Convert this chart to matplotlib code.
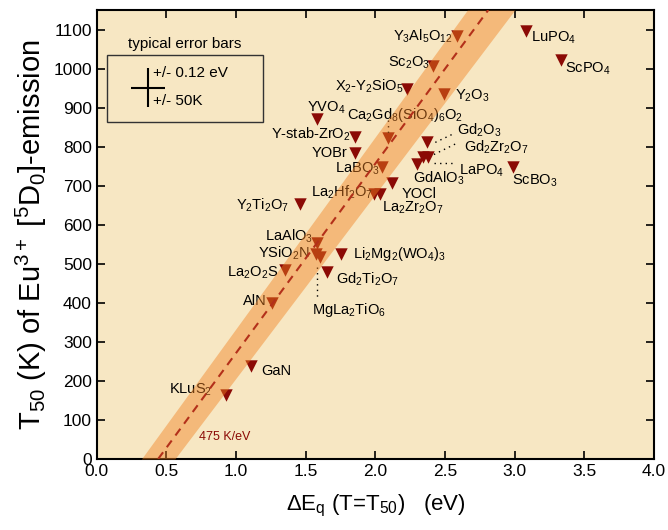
import numpy as np
import matplotlib
matplotlib.use('Agg')
import matplotlib.pyplot as plt

plt.rcParams['font.family'] = ['Liberation Sans', 'DejaVu Sans']
plt.rcParams['mathtext.fontset'] = 'custom'
plt.rcParams['mathtext.rm'] = 'Liberation Sans'
plt.rcParams['mathtext.it'] = 'Liberation Sans:italic'
plt.rcParams['mathtext.default'] = 'regular'

# compounds: (name, dEq [eV], T50 [K])
names = ['Y3Al5O12', 'LuPO4', 'Sc2O3', 'ScPO4', 'X2-Y2SiO5', 'Y2O3', 'YVO4',
         'Y-stab-ZrO2', 'YOBr', 'Ca2Gd8(SiO4)6O2', 'Gd2O3', 'Gd2Zr2O7', 'LaPO4',
         'GdAlO3', 'ScBO3', 'LaBO3', 'YOCl', 'La2Hf2O7', 'La2Zr2O7', 'Y2Ti2O7',
         'LaAlO3', 'YSiO2N', 'MgLa2TiO6', 'Li2Mg2(WO4)3', 'La2O2S', 'Gd2Ti2O7',
         'AlN', 'GaN', 'KLuS2']
dEq = [2.585, 3.08, 2.41, 3.33, 2.23, 2.49, 1.58,
       1.85, 1.85, 2.09, 2.37, 2.34, 2.38,
       2.30, 2.99, 2.05, 2.12, 1.99, 2.03, 1.46,
       1.58, 1.57, 1.60, 1.75, 1.35, 1.65,
       1.26, 1.105, 0.93]
T50 = [1084, 1097, 1008, 1023, 949, 936, 872,
       824, 785, 821, 811, 773, 773,
       755, 747, 749, 708, 680, 680, 652,
       553, 524, 518, 524, 483, 479,
       400, 238, 164]

labels = [r'Y$_3$Al$_5$O$_{12}$', r'LuPO$_4$', r'Sc$_2$O$_3$', r'ScPO$_4$',
          r'X$_2$-Y$_2$SiO$_5$', r'Y$_2$O$_3$', r'YVO$_4$', r'Y-stab-ZrO$_2$',
          r'YOBr', r'Ca$_2$Gd$_8$(SiO$_4$)$_6$O$_2$', r'Gd$_2$O$_3$',
          r'Gd$_2$Zr$_2$O$_7$', r'LaPO$_4$', r'GdAlO$_3$', r'ScBO$_3$', r'LaBO$_3$',
          r'YOCl', r'La$_2$Hf$_2$O$_7$', r'La$_2$Zr$_2$O$_7$', r'Y$_2$Ti$_2$O$_7$',
          r'LaAlO$_3$', r'YSiO$_2$N', r'MgLa$_2$TiO$_6$', r'Li$_2$Mg$_2$(WO$_4$)$_3$',
          r'La$_2$O$_2$S', r'Gd$_2$Ti$_2$O$_7$', r'AlN', r'GaN', r'KLuS$_2$']
label_x = [2.556, 3.12, 2.39, 3.36, 2.20, 2.57, 1.65, 1.82, 1.80, 2.21, 2.585,
           2.635, 2.60, 2.27, 2.98, 2.03, 2.19, 1.98, 2.05, 1.38, 1.55, 1.53,
           1.545, 1.84, 1.30, 1.72, 1.22, 1.18, 0.83]
label_y = [1084, 1079, 1015, 1000, 954, 931, 900, 831, 785, 882, 841, 798, 739,
           718, 713, 744, 678, 683, 644, 650, 570, 527, 381, 524, 478, 460, 404,
           225, 176]
label_ha = ['right', 'left', 'right', 'left', 'right', 'left', 'center', 'right',
            'right', 'center', 'left', 'left', 'left', 'left', 'left', 'right',
            'left', 'right', 'left', 'right', 'right', 'right', 'left', 'left',
            'right', 'left', 'right', 'left', 'right']

# dotted connectors from label to marker
leader_x = [[2.09, 2.09], [2.43, 2.56], [2.42, 2.58], [2.42, 2.58], [1.58, 1.58]]
leader_y = [[868, 836], [811, 833], [780, 808], [759, 759], [491, 407]]

# fitted line and its band (y range 0..1150)
band_y = [0, 1150]
fit_x = [0.44, 2.81]
band_lo = [0.32, 2.66]
band_hi = [0.56, 3.00]

fig = plt.figure(figsize=(6.68, 5.30), dpi=100)
ax = fig.add_axes([0.145, 0.134, 0.834, 0.847])
ax.set_facecolor('#F7E7C3')

ax.scatter(dEq, T50, marker='v', s=80, color='#8B0A05', zorder=2, linewidths=0)
for name, lab, lx, ly, ha in zip(names, labels, label_x, label_y, label_ha):
    ax.text(lx, ly, lab, ha=ha, va='center', fontsize=10.5, zorder=2)
for xs, ys in zip(leader_x, leader_y):
    ax.plot(xs, ys, color='black', linestyle=(0, (1, 3)), linewidth=1.0, zorder=2)

ax.fill_betweenx(band_y, band_lo, band_hi, color='#F18121', alpha=0.45,
                 linewidth=0, zorder=3)
ax.plot(fit_x, band_y, color='#B3301A', linestyle=(0, (4, 3)), linewidth=1.5, zorder=4)
ax.text(0.73, 56, '475 K/eV', color='#8B0A05', fontsize=9, va='center', zorder=4)

# typical error bars box
ax.add_patch(plt.Rectangle((0.07, 862), 1.12, 174, fill=False, edgecolor='#333333',
                           linewidth=1.0, zorder=5))
ax.text(0.63, 1064, 'typical error bars', ha='center', va='center', fontsize=11)
ax.errorbar([0.366], [951], xerr=0.12, yerr=50, fmt='none', ecolor='black',
            elinewidth=1.5, capsize=0, zorder=5)
ax.text(0.40, 990, '+/- 0.12 eV', va='center', fontsize=11)
ax.text(0.40, 918, '+/- 50K', va='center', fontsize=11)

ax.set_xlim(0, 4.0)
ax.set_ylim(0, 1150)
ax.set_xticks(np.arange(0, 4.01, 0.5))
ax.set_yticks(np.arange(0, 1101, 100))
ax.xaxis.set_major_formatter(matplotlib.ticker.FormatStrFormatter('%.1f'))
ax.tick_params(direction='in', length=6, width=1.2, top=True, right=True,
               labelsize=12.5)
for sp in ax.spines.values():
    sp.set_linewidth(1.5)

ax.set_xlabel(r'$\Delta$E$_q$ (T=T$_{50}$)   (eV)', fontsize=16, labelpad=10)
ax.set_ylabel(r'T$_{50}$ (K) of Eu$^{3+}$ [$^5$D$_0$]-emission', fontsize=21,
              labelpad=3)

fig.savefig('out.png', dpi=100)
